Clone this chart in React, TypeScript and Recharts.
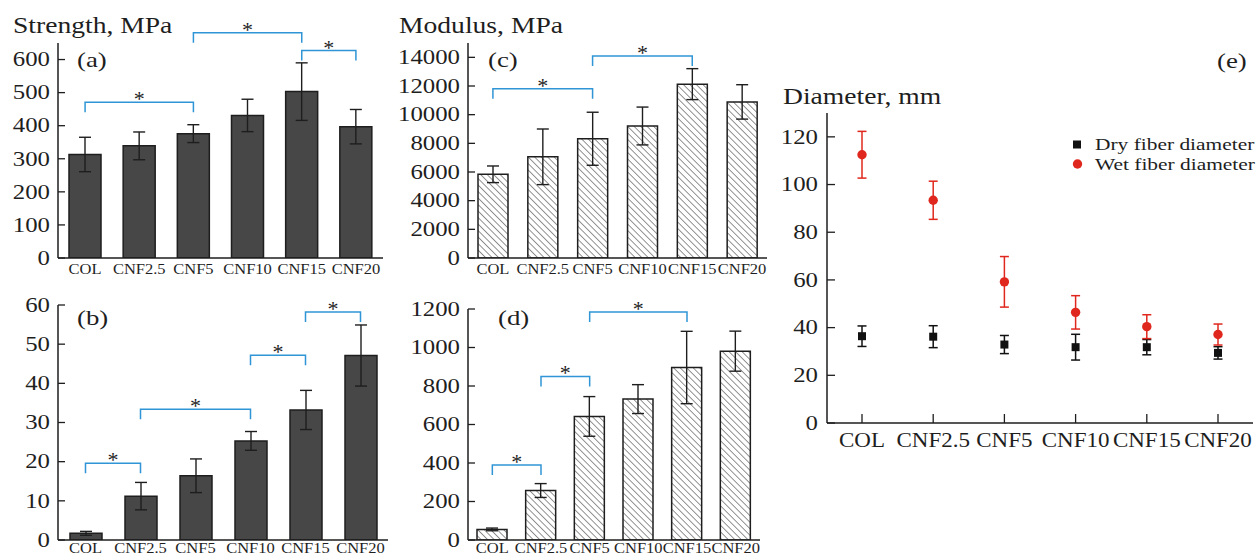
import React from 'react';
import { BarChart, Bar, XAxis, YAxis, ErrorBar, ReferenceLine, ComposedChart, Line } from 'recharts';

// ---------- data ----------
const categories = ['COL', 'CNF2.5', 'CNF5', 'CNF10', 'CNF15', 'CNF20'];

const strength = [313, 339, 376, 431, 503, 397];
const strengthErr = [52, 42, 27, 49, 87, 52];

const panelB = [1.7, 11.2, 16.4, 25.3, 33.2, 47.1];
const panelBErr = [0.5, 3.5, 4.3, 2.4, 5.0, 7.8];

const modulus = [5840, 7060, 8320, 9210, 12130, 10890];
const modulusErr = [580, 1940, 1850, 1320, 1080, 1200];

const panelD = [55, 257, 642, 732, 896, 981];
const panelDErr = [7, 36, 103, 75, 188, 104];

const dryDiameter = [36.4, 36.2, 32.9, 31.8, 31.8, 29.4];
const dryErr = [4.3, 4.6, 3.8, 5.4, 3.2, 2.6];
const wetDiameter = [112.5, 93.4, 59.2, 46.4, 40.4, 37.1];
const wetErr = [9.8, 8.0, 10.6, 7.0, 5.0, 4.4];

const ticksA = [0, 100, 200, 300, 400, 500, 600];
const ticksB = [0, 10, 20, 30, 40, 50, 60];
const ticksC = [0, 2000, 4000, 6000, 8000, 10000, 12000, 14000];
const ticksD = [0, 200, 400, 600, 800, 1000, 1200];
const ticksE = [0, 20, 40, 60, 80, 100, 120];

const bracketsA = [
  { from: 'COL', to: 'CNF5', level: 471 },
  { from: 'CNF5', to: 'CNF15', level: 681 },
  { from: 'CNF15', to: 'CNF20', level: 627 },
];
const bracketsB = [
  { from: 'COL', to: 'CNF2.5', level: 19.6 },
  { from: 'CNF2.5', to: 'CNF10', level: 33.4 },
  { from: 'CNF10', to: 'CNF15', level: 47.2 },
  { from: 'CNF15', to: 'CNF20', level: 58.2 },
];
const bracketsC = [
  { from: 'COL', to: 'CNF5', level: 11800 },
  { from: 'CNF5', to: 'CNF15', level: 14100 },
];
const bracketsD = [
  { from: 'COL', to: 'CNF2.5', level: 390 },
  { from: 'CNF2.5', to: 'CNF5', level: 850 },
  { from: 'CNF5', to: 'CNF15', level: 1184 },
];

const seriesNames = { dry: 'Dry fiber diameter', wet: 'Wet fiber diameter' };

// ---------- tables ----------
const toRows = (vals: number[], errs: number[]) =>
  categories.map((name, i) => ({ name, v: vals[i], e: errs[i] }));
const dataA = toRows(strength, strengthErr);
const dataB = toRows(panelB, panelBErr);
const dataC = toRows(modulus, modulusErr);
const dataD = toRows(panelD, panelDErr);
const dataE = categories.map((name, i) => ({
  name,
  dry: dryDiameter[i],
  dryErr: dryErr[i],
  wet: wetDiameter[i],
  wetErr: wetErr[i],
}));

// ---------- styles ----------
const FONT = "'Liberation Serif', 'Times New Roman', serif";
const INK = '#1e1e1e';
const BLUE = '#2f95d6';
const RED = '#e0271d';

const stretch = (x: number, y: number, sx: number) =>
  `translate(${x} ${y}) scale(${sx} 1) translate(${-x} ${-y})`;

function makeYTick(margin: number, len: number, fontSize: number, sx: number) {
  return (props: any) => {
    const { x, y, payload } = props;
    const ax = x + margin;
    return (
      <g>
        <line x1={ax} x2={ax + len} y1={y} y2={y} stroke={INK} strokeWidth={1.3} />
        <text
          x={x}
          y={y}
          dy="0.34em"
          textAnchor="end"
          fontFamily={FONT}
          fontSize={fontSize}
          fill={INK}
          transform={stretch(x, y, sx)}
        >
          {payload.value}
        </text>
      </g>
    );
  };
}

function makeXTick(baseline: number, fontSize: number, sx: number, tickLen = 0) {
  return (props: any) => {
    const { x, y, payload } = props;
    const by = y + baseline;
    return (
      <g>
        {tickLen ? <line x1={x} x2={x} y1={y} y2={y - tickLen} stroke={INK} strokeWidth={1.3} /> : null}
        <text x={x} y={by} textAnchor="middle" fontFamily={FONT} fontSize={fontSize} fill={INK} transform={stretch(x, by, sx)}>
          {payload.value}
        </text>
      </g>
    );
  };
}

const bracketShape = (props: any) => {
  const { x1, y1, x2, y2 } = props;
  const leg = 10;
  const mx = (x1 + x2) / 2;
  return (
    <g>
      <path d={`M${x1},${y1 + leg}V${y1}H${x2}V${y2 + leg}`} fill="none" stroke={BLUE} strokeWidth={1.5} />
      <text x={mx} y={y1 + 4} textAnchor="middle" fontFamily={FONT} fontSize={22} fill={INK}>
        *
      </text>
    </g>
  );
};

const renderBrackets = (list: { from: string; to: string; level: number }[]) =>
  list.map((b, i) => (
    <ReferenceLine
      key={i}
      ifOverflow="visible"
      segment={[
        { x: b.from, y: b.level },
        { x: b.to, y: b.level },
      ]}
      shape={bracketShape}
    />
  ));

const SText = ({ x, y, size, sx, children, anchor = 'start', fill = INK }: any) => (
  <text x={x} y={y} fontSize={size} fontFamily={FONT} textAnchor={anchor} fill={fill} transform={stretch(x, y, sx)}>
    {children}
  </text>
);

const yTickMain = makeYTick(8, 7, 20, 1.24);
const xTickTop = makeXTick(16, 15, 1.1);
const xTickBottom = makeXTick(13, 15, 1.1);

const Hatch = ({ id }: { id: string }) => (
  <defs>
    <pattern id={id} width={4.6} height={4.6} patternUnits="userSpaceOnUse" patternTransform="rotate(-45)">
      <line x1={0} y1={-1} x2={0} y2={6} stroke="#777" strokeWidth={1.6} />
    </pattern>
  </defs>
);

type PanelProps = {
  data: any[];
  width: number;
  height: number;
  margin: any;
  yWidth: number;
  xHeight: number;
  domain: [number, number];
  ticks: number[];
  barSize: number;
  fill: string;
  hatchId?: string;
  xTick: any;
  brackets: { from: string; to: string; level: number }[];
};

const Panel = (p: PanelProps) => (
  <BarChart width={p.width} height={p.height} data={p.data} margin={p.margin}>
    {p.hatchId ? <Hatch id={p.hatchId} /> : null}
    <XAxis
      dataKey="name"
      type="category"
      height={p.xHeight}
      tickSize={0}
      tickMargin={0}
      interval={0}
      tickLine={false}
      axisLine={{ stroke: INK, strokeWidth: 1.5 }}
      tick={p.xTick}
    />
    <YAxis
      type="number"
      width={p.yWidth}
      domain={p.domain}
      ticks={p.ticks}
      interval={0}
      allowDataOverflow
      tickSize={0}
      tickMargin={8}
      tickLine={false}
      axisLine={{ stroke: INK, strokeWidth: 1.5 }}
      tick={yTickMain}
    />
    <Bar dataKey="v" fill={p.fill} stroke={INK} strokeWidth={1.5} barSize={p.barSize} isAnimationActive={false}>
      <ErrorBar dataKey="e" direction="y" width={6} stroke={INK} strokeWidth={1.4} />
    </Bar>
    {renderBrackets(p.brackets)}
  </BarChart>
);

const squareDot = (props: any) => {
  const { cx, cy, index } = props;
  if (cx == null || cy == null) return <g key={`s${index}`} />;
  return <rect key={`s${index}`} x={cx - 4} y={cy - 4} width={8} height={8} fill="#111" />;
};
const circleDot = (props: any) => {
  const { cx, cy, index } = props;
  if (cx == null || cy == null) return <g key={`c${index}`} />;
  return <circle key={`c${index}`} cx={cx} cy={cy} r={4.7} fill={RED} />;
};

const abs = (left: number, top: number): React.CSSProperties => ({ position: 'absolute', left, top });

export default function App() {
  return (
    <div style={{ position: 'absolute', left: 0, top: 0, width: 1256, height: 557, background: '#fff', overflow: 'hidden' }}>
      <div style={abs(0, 0)}>
        <Panel
          data={dataA}
          width={390}
          height={280}
          margin={{ top: 43, right: 7, left: 0, bottom: 0 }}
          yWidth={58}
          xHeight={22}
          domain={[0, 650]}
          ticks={ticksA}
          barSize={32}
          fill="#474747"
          xTick={xTickTop}
          brackets={bracketsA}
        />
      </div>
      <div style={abs(0, 280)}>
        <Panel
          data={dataB}
          width={390}
          height={277}
          margin={{ top: 25, right: 2, left: 0, bottom: 0 }}
          yWidth={58}
          xHeight={17}
          domain={[0, 60]}
          ticks={ticksB}
          barSize={32}
          fill="#474747"
          xTick={xTickBottom}
          brackets={bracketsB}
        />
      </div>
      <div style={abs(390, 0)}>
        <Panel
          data={dataC}
          width={390}
          height={280}
          margin={{ top: 43, right: 13, left: 0, bottom: 0 }}
          yWidth={78}
          xHeight={22}
          domain={[0, 15000]}
          ticks={ticksC}
          barSize={30}
          fill="url(#hatchC)"
          hatchId="hatchC"
          xTick={xTickTop}
          brackets={bracketsC}
        />
      </div>
      <div style={abs(390, 280)}>
        <Panel
          data={dataD}
          width={390}
          height={277}
          margin={{ top: 29, right: 20, left: 0, bottom: 0 }}
          yWidth={78}
          xHeight={17}
          domain={[0, 1200]}
          ticks={ticksD}
          barSize={30}
          fill="url(#hatchD)"
          hatchId="hatchD"
          xTick={xTickBottom}
          brackets={bracketsD}
        />
      </div>
      <div style={abs(770, 0)}>
        <ComposedChart width={486} height={557} data={dataE} margin={{ top: 113, right: 3, left: 0, bottom: 110 }}>
          <XAxis
            dataKey="name"
            type="category"
            height={24}
            padding={{ left: 35, right: 35 }}
            tickSize={0}
            tickMargin={0}
            interval={0}
            tickLine={false}
            axisLine={{ stroke: INK, strokeWidth: 1.5 }}
            tick={makeXTick(24, 20, 1.15, 9)}
          />
          <YAxis
            type="number"
            width={57}
            domain={[0, 130]}
            ticks={ticksE}
            interval={0}
            allowDataOverflow
            tickSize={0}
            tickMargin={9}
            tickLine={false}
            axisLine={{ stroke: INK, strokeWidth: 1.5 }}
            tick={makeYTick(9, 8, 20, 1.24)}
          />
          <Line dataKey="dry" name={seriesNames.dry} stroke="none" dot={squareDot} activeDot={false} isAnimationActive={false}>
            <ErrorBar dataKey="dryErr" direction="y" width={4.5} stroke="#111" strokeWidth={1.5} />
          </Line>
          <Line dataKey="wet" name={seriesNames.wet} stroke="none" dot={circleDot} activeDot={false} isAnimationActive={false}>
            <ErrorBar dataKey="wetErr" direction="y" width={4.5} stroke={RED} strokeWidth={1.5} />
          </Line>
        </ComposedChart>
      </div>
      <svg width={1256} height={557} style={{ position: 'absolute', left: 0, top: 0, pointerEvents: 'none' }}>
        <SText x={13} y={33} size={23} sx={1.2}>Strength, MPa</SText>
        <SText x={399} y={33} size={23} sx={1.2}>Modulus, MPa</SText>
        <SText x={783} y={104} size={23} sx={1.2}>Diameter, mm</SText>
        <SText x={77} y={67} size={22} sx={1.22}>(a)</SText>
        <SText x={77} y={325} size={22} sx={1.22}>(b)</SText>
        <SText x={488} y={67} size={22} sx={1.22}>(c)</SText>
        <SText x={498} y={325} size={22} sx={1.22}>(d)</SText>
        <SText x={1217} y={68} size={22} sx={1.22}>(e)</SText>
        <rect x={1073} y={140.5} width={8} height={8} fill="#111" />
        <SText x={1095} y={150.5} size={17} sx={1.26}>{seriesNames.dry}</SText>
        <circle cx={1077.5} cy={164} r={4.7} fill={RED} />
        <SText x={1095} y={170} size={17} sx={1.26}>{seriesNames.wet}</SText>
      </svg>
    </div>
  );
}
